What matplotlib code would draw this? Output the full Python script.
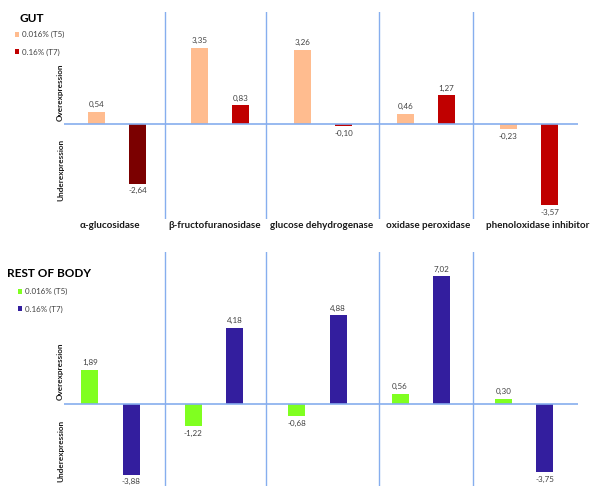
import matplotlib.pyplot as plt
from matplotlib.patches import Patch

plt.rcParams['font.family'] = ['Lato', 'DejaVu Sans']

# data
genes = ['α-glucosidase', 'β-fructofuranosidase', 'glucose dehydrogenase',
         'oxidase peroxidase', 'phenoloxidase inhibitor']
gut_t5 = [0.54, 3.35, 3.26, 0.46, -0.23]
gut_t7 = [-2.64, 0.83, -0.10, 1.27, -3.57]
body_t5 = [1.89, -1.22, -0.68, 0.56, 0.30]
body_t7 = [-3.88, 4.18, 4.88, 7.02, -3.75]
series_labels = ['0.016% (T5)', '0.16% (T7)']

# styling
W, H = 600, 494
LINE = '#86AEEE'
TXT = '#404040'
gut_c5 = '#FFBC8F'
gut_c7 = ['#7B0000', '#C00000', '#C00000', '#C00000', '#C00000']
body_c5 = '#80FF20'
body_c7 = '#331E9E'
seps = [0.197, 0.3924, 0.6134, 0.7963]  # axes fraction
label_pos = [0.089, 0.2938, 0.5019, 0.7082, 0.9222]  # axes fraction, gene names
off, bw = 0.2, 0.165

fig = plt.figure(figsize=(W / 100, H / 100), dpi=100)


def px_axes(left, top, right, bottom):
    return fig.add_axes([left / W, 1 - bottom / H, (right - left) / W, (bottom - top) / H])


def fmt(v):
    return f'{v:.2f}'.replace('.', ',')


def panel(ax, v5, v7, c5, c7, xlim, ylim):
    x = list(range(len(genes)))
    b5 = ax.bar([i - off for i in x], v5, width=bw, color=c5, zorder=2)
    b7 = ax.bar([i + off for i in x], v7, width=bw, color=c7, zorder=2)
    for bars, vals in ((b5, v5), (b7, v7)):
        for b, v in zip(bars, vals):
            xc = b.get_x() + b.get_width() / 2
            if v >= 0:
                ax.annotate(fmt(v), (xc, v), xytext=(0, 2.5), textcoords='offset points',
                            ha='center', va='bottom', fontsize=5.8, color=TXT)
            else:
                ax.annotate(fmt(v), (xc, v), xytext=(0, -2.5), textcoords='offset points',
                            ha='center', va='top', fontsize=5.8, color=TXT)
    ax.axhline(0, color=LINE, lw=1.2, zorder=3)
    for s in seps:
        ax.plot([s, s], [0, 1], transform=ax.transAxes, color=LINE, lw=1.0, zorder=1)
    ax.set_xlim(*xlim)
    ax.set_ylim(*ylim)
    ax.axis('off')
    return b5, b7


# top panel: gut
ax1 = px_axes(64, 12, 578, 219)
panel(ax1, gut_t5, gut_t7, gut_c5, gut_c7, (-0.515, 4.476), (-4.185, 4.93))
for p, g in zip(label_pos, genes):
    ax1.text(p, -0.012, g, transform=ax1.transAxes, ha='center', va='top', fontsize=7.1,
             fontweight='bold', color='#1a1a1a')

# bottom panel: rest of body
ax2 = px_axes(64, 252, 578, 486)
panel(ax2, body_t5, body_t7, body_c5, body_c7, (-0.45, 4.52), (-4.5, 8.35))

# side labels
for yo, yu in ((92, 170), (371, 451)):
    fig.text(60.5 / W, 1 - yo / H, 'Overexpression', rotation=90, ha='center', va='center',
             fontsize=5.9, fontweight='bold', color='#1a1a1a')
    fig.text(60.5 / W, 1 - yu / H, 'Underexpression', rotation=90, ha='center', va='center',
             fontsize=5.9, fontweight='bold', color='#1a1a1a')

# titles and legends
fig.text(20 / W, 1 - 18 / H, 'GUT', ha='left', va='center', fontsize=8.5, fontweight='bold')
fig.text(7 / W, 1 - 273 / H, 'REST OF BODY', ha='left', va='center', fontsize=8.5,
         fontweight='bold')

for (lx, ly), cols in (((15, 31), [gut_c5, '#C00000']), ((18, 288), [body_c5, body_c7])):
    handles = [Patch(facecolor=c, edgecolor='none', label=l) for c, l in zip(cols, series_labels)]
    fig.legend(handles=handles, loc='upper left', bbox_to_anchor=(lx / W, 1 - ly / H),
               frameon=False, fontsize=5.8, labelspacing=1.3, handlelength=0.55,
               handleheight=0.55, handletextpad=0.3, borderpad=0, borderaxespad=0,
               labelcolor=TXT)

fig.savefig('out.png', dpi=100)
